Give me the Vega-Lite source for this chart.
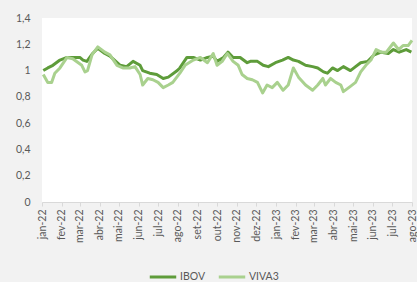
{
  "$schema": "https://vega.github.io/schema/vega-lite/v6.json",
  "width": 370,
  "height": 184,
  "autosize": {"type": "none"},
  "padding": {"left": 42, "top": 18, "right": 5, "bottom": 80},
  "background": "#f2f2f2",
  "config": {
    "view": {"fill": "white", "stroke": null},
    "font": "Lato"
  },
  "data": {
    "values": [
      {"date": "2022-01-03", "serie": "IBOV", "valor": 1.00},
      {"date": "2022-01-10", "serie": "IBOV", "valor": 1.02},
      {"date": "2022-01-18", "serie": "IBOV", "valor": 1.04},
      {"date": "2022-01-29", "serie": "IBOV", "valor": 1.08},
      {"date": "2022-02-09", "serie": "IBOV", "valor": 1.10},
      {"date": "2022-02-18", "serie": "IBOV", "valor": 1.10},
      {"date": "2022-03-01", "serie": "IBOV", "valor": 1.10},
      {"date": "2022-03-06", "serie": "IBOV", "valor": 1.08},
      {"date": "2022-03-12", "serie": "IBOV", "valor": 1.07},
      {"date": "2022-03-21", "serie": "IBOV", "valor": 1.13},
      {"date": "2022-03-29", "serie": "IBOV", "valor": 1.17},
      {"date": "2022-04-09", "serie": "IBOV", "valor": 1.13},
      {"date": "2022-04-17", "serie": "IBOV", "valor": 1.11},
      {"date": "2022-05-03", "serie": "IBOV", "valor": 1.04},
      {"date": "2022-05-13", "serie": "IBOV", "valor": 1.03},
      {"date": "2022-05-23", "serie": "IBOV", "valor": 1.07},
      {"date": "2022-06-03", "serie": "IBOV", "valor": 1.04},
      {"date": "2022-06-07", "serie": "IBOV", "valor": 1.00},
      {"date": "2022-06-18", "serie": "IBOV", "valor": 0.98},
      {"date": "2022-06-29", "serie": "IBOV", "valor": 0.97},
      {"date": "2022-07-09", "serie": "IBOV", "valor": 0.94},
      {"date": "2022-07-17", "serie": "IBOV", "valor": 0.95},
      {"date": "2022-07-31", "serie": "IBOV", "valor": 1.00},
      {"date": "2022-08-04", "serie": "IBOV", "valor": 1.02},
      {"date": "2022-08-15", "serie": "IBOV", "valor": 1.10},
      {"date": "2022-08-25", "serie": "IBOV", "valor": 1.10},
      {"date": "2022-09-05", "serie": "IBOV", "valor": 1.08},
      {"date": "2022-09-16", "serie": "IBOV", "valor": 1.10},
      {"date": "2022-09-25", "serie": "IBOV", "valor": 1.11},
      {"date": "2022-10-01", "serie": "IBOV", "valor": 1.07},
      {"date": "2022-10-11", "serie": "IBOV", "valor": 1.10},
      {"date": "2022-10-18", "serie": "IBOV", "valor": 1.14},
      {"date": "2022-10-26", "serie": "IBOV", "valor": 1.10},
      {"date": "2022-11-06", "serie": "IBOV", "valor": 1.10},
      {"date": "2022-11-17", "serie": "IBOV", "valor": 1.06},
      {"date": "2022-11-22", "serie": "IBOV", "valor": 1.07},
      {"date": "2022-12-03", "serie": "IBOV", "valor": 1.07},
      {"date": "2022-12-12", "serie": "IBOV", "valor": 1.04},
      {"date": "2022-12-20", "serie": "IBOV", "valor": 1.03},
      {"date": "2022-12-31", "serie": "IBOV", "valor": 1.06},
      {"date": "2023-01-11", "serie": "IBOV", "valor": 1.08},
      {"date": "2023-01-20", "serie": "IBOV", "valor": 1.10},
      {"date": "2023-01-28", "serie": "IBOV", "valor": 1.08},
      {"date": "2023-02-05", "serie": "IBOV", "valor": 1.07},
      {"date": "2023-02-16", "serie": "IBOV", "valor": 1.04},
      {"date": "2023-02-27", "serie": "IBOV", "valor": 1.03},
      {"date": "2023-03-07", "serie": "IBOV", "valor": 1.02},
      {"date": "2023-03-16", "serie": "IBOV", "valor": 0.99},
      {"date": "2023-03-22", "serie": "IBOV", "valor": 0.98},
      {"date": "2023-03-30", "serie": "IBOV", "valor": 1.02},
      {"date": "2023-04-07", "serie": "IBOV", "valor": 1.00},
      {"date": "2023-04-16", "serie": "IBOV", "valor": 1.03},
      {"date": "2023-04-27", "serie": "IBOV", "valor": 1.00},
      {"date": "2023-05-05", "serie": "IBOV", "valor": 1.03},
      {"date": "2023-05-13", "serie": "IBOV", "valor": 1.06},
      {"date": "2023-05-24", "serie": "IBOV", "valor": 1.07},
      {"date": "2023-06-03", "serie": "IBOV", "valor": 1.12},
      {"date": "2023-06-14", "serie": "IBOV", "valor": 1.14},
      {"date": "2023-06-25", "serie": "IBOV", "valor": 1.13},
      {"date": "2023-07-03", "serie": "IBOV", "valor": 1.16},
      {"date": "2023-07-12", "serie": "IBOV", "valor": 1.14},
      {"date": "2023-07-23", "serie": "IBOV", "valor": 1.16},
      {"date": "2023-07-31", "serie": "IBOV", "valor": 1.14},
      {"date": "2022-01-03", "serie": "VIVA3", "valor": 0.97},
      {"date": "2022-01-10", "serie": "VIVA3", "valor": 0.91},
      {"date": "2022-01-16", "serie": "VIVA3", "valor": 0.91},
      {"date": "2022-01-21", "serie": "VIVA3", "valor": 0.98},
      {"date": "2022-01-29", "serie": "VIVA3", "valor": 1.02},
      {"date": "2022-02-09", "serie": "VIVA3", "valor": 1.10},
      {"date": "2022-02-18", "serie": "VIVA3", "valor": 1.09},
      {"date": "2022-03-04", "serie": "VIVA3", "valor": 1.04},
      {"date": "2022-03-09", "serie": "VIVA3", "valor": 0.99},
      {"date": "2022-03-13", "serie": "VIVA3", "valor": 1.00},
      {"date": "2022-03-20", "serie": "VIVA3", "valor": 1.12},
      {"date": "2022-03-29", "serie": "VIVA3", "valor": 1.18},
      {"date": "2022-04-09", "serie": "VIVA3", "valor": 1.14},
      {"date": "2022-04-17", "serie": "VIVA3", "valor": 1.12},
      {"date": "2022-04-28", "serie": "VIVA3", "valor": 1.04},
      {"date": "2022-05-07", "serie": "VIVA3", "valor": 1.02},
      {"date": "2022-05-18", "serie": "VIVA3", "valor": 1.02},
      {"date": "2022-05-26", "serie": "VIVA3", "valor": 1.03},
      {"date": "2022-06-03", "serie": "VIVA3", "valor": 0.97},
      {"date": "2022-06-07", "serie": "VIVA3", "valor": 0.89},
      {"date": "2022-06-15", "serie": "VIVA3", "valor": 0.94},
      {"date": "2022-06-23", "serie": "VIVA3", "valor": 0.93},
      {"date": "2022-07-01", "serie": "VIVA3", "valor": 0.91},
      {"date": "2022-07-09", "serie": "VIVA3", "valor": 0.87},
      {"date": "2022-07-17", "serie": "VIVA3", "valor": 0.89},
      {"date": "2022-07-24", "serie": "VIVA3", "valor": 0.91},
      {"date": "2022-08-04", "serie": "VIVA3", "valor": 0.98},
      {"date": "2022-08-12", "serie": "VIVA3", "valor": 1.04},
      {"date": "2022-08-25", "serie": "VIVA3", "valor": 1.08},
      {"date": "2022-09-05", "serie": "VIVA3", "valor": 1.10},
      {"date": "2022-09-16", "serie": "VIVA3", "valor": 1.06},
      {"date": "2022-09-25", "serie": "VIVA3", "valor": 1.13},
      {"date": "2022-10-01", "serie": "VIVA3", "valor": 1.04},
      {"date": "2022-10-09", "serie": "VIVA3", "valor": 1.07},
      {"date": "2022-10-17", "serie": "VIVA3", "valor": 1.13},
      {"date": "2022-10-26", "serie": "VIVA3", "valor": 1.07},
      {"date": "2022-11-03", "serie": "VIVA3", "valor": 1.04},
      {"date": "2022-11-09", "serie": "VIVA3", "valor": 0.97},
      {"date": "2022-11-17", "serie": "VIVA3", "valor": 0.94},
      {"date": "2022-11-25", "serie": "VIVA3", "valor": 0.93},
      {"date": "2022-12-03", "serie": "VIVA3", "valor": 0.91},
      {"date": "2022-12-11", "serie": "VIVA3", "valor": 0.83},
      {"date": "2022-12-18", "serie": "VIVA3", "valor": 0.89},
      {"date": "2022-12-26", "serie": "VIVA3", "valor": 0.87},
      {"date": "2023-01-03", "serie": "VIVA3", "valor": 0.91},
      {"date": "2023-01-12", "serie": "VIVA3", "valor": 0.85},
      {"date": "2023-01-20", "serie": "VIVA3", "valor": 0.89},
      {"date": "2023-01-28", "serie": "VIVA3", "valor": 1.02},
      {"date": "2023-02-05", "serie": "VIVA3", "valor": 0.95},
      {"date": "2023-02-16", "serie": "VIVA3", "valor": 0.89},
      {"date": "2023-02-27", "serie": "VIVA3", "valor": 0.85},
      {"date": "2023-03-07", "serie": "VIVA3", "valor": 0.89},
      {"date": "2023-03-15", "serie": "VIVA3", "valor": 0.94},
      {"date": "2023-03-19", "serie": "VIVA3", "valor": 0.89},
      {"date": "2023-03-27", "serie": "VIVA3", "valor": 0.94},
      {"date": "2023-04-04", "serie": "VIVA3", "valor": 0.91},
      {"date": "2023-04-12", "serie": "VIVA3", "valor": 0.89},
      {"date": "2023-04-16", "serie": "VIVA3", "valor": 0.84},
      {"date": "2023-04-27", "serie": "VIVA3", "valor": 0.88},
      {"date": "2023-05-05", "serie": "VIVA3", "valor": 0.91},
      {"date": "2023-05-13", "serie": "VIVA3", "valor": 0.99},
      {"date": "2023-05-21", "serie": "VIVA3", "valor": 1.04},
      {"date": "2023-05-29", "serie": "VIVA3", "valor": 1.08},
      {"date": "2023-06-06", "serie": "VIVA3", "valor": 1.16},
      {"date": "2023-06-14", "serie": "VIVA3", "valor": 1.14},
      {"date": "2023-06-22", "serie": "VIVA3", "valor": 1.14},
      {"date": "2023-07-03", "serie": "VIVA3", "valor": 1.21},
      {"date": "2023-07-11", "serie": "VIVA3", "valor": 1.16},
      {"date": "2023-07-18", "serie": "VIVA3", "valor": 1.19},
      {"date": "2023-07-26", "serie": "VIVA3", "valor": 1.19},
      {"date": "2023-08-01", "serie": "VIVA3", "valor": 1.23}
    ]
  },
  "mark": {"type": "line", "strokeWidth": 3, "strokeJoin": "round"},
  "encoding": {
    "x": {
      "field": "date",
      "type": "temporal",
      "scale": {
        "type": "utc",
        "domain": [
          {"year": 2022, "month": 1, "date": 1, "utc": true},
          {"year": 2023, "month": 8, "date": 1, "utc": true}
        ]
      },
      "axis": {
        "title": null,
        "grid": false,
        "tickCount": {"interval": "month", "step": 1},
        "labelAngle": -90,
        "labelExpr": "['jan','fev','mar','abr','mai','jun','jul','ago','set','out','nov','dez'][utcmonth(datum.value)] + '-' + utcFormat(datum.value, '%y')",
        "labelFontSize": 10.5,
        "labelColor": "#595959",
        "labelPadding": 3,
        "labelOverlap": false,
        "labelFlush": false,
        "domainColor": "#d9d9d9",
        "tickColor": "#d9d9d9",
        "tickSize": 4
      }
    },
    "y": {
      "field": "valor",
      "type": "quantitative",
      "scale": {"domain": [0, 1.4], "nice": false},
      "axis": {
        "title": null,
        "grid": false,
        "domain": false,
        "ticks": false,
        "values": [0, 0.2, 0.4, 0.6, 0.8, 1, 1.2, 1.4],
        "labelExpr": "replace(format(datum.value, '.1~f'), '.', ',')",
        "labelFontSize": 10.5,
        "labelColor": "#595959",
        "labelPadding": 12
      }
    },
    "color": {
      "field": "serie",
      "type": "nominal",
      "scale": {"domain": ["IBOV", "VIVA3"], "range": ["#5e9c3a", "#a9d18e"]},
      "legend": {
        "title": null,
        "orient": "none",
        "direction": "horizontal",
        "legendX": 106,
        "legendY": 244,
        "symbolType": "stroke",
        "symbolSize": 700,
        "symbolStrokeWidth": 3,
        "labelFontSize": 10.5,
        "labelColor": "#595959",
        "columnPadding": 6,
        "labelOffset": 2
      }
    }
  }
}
